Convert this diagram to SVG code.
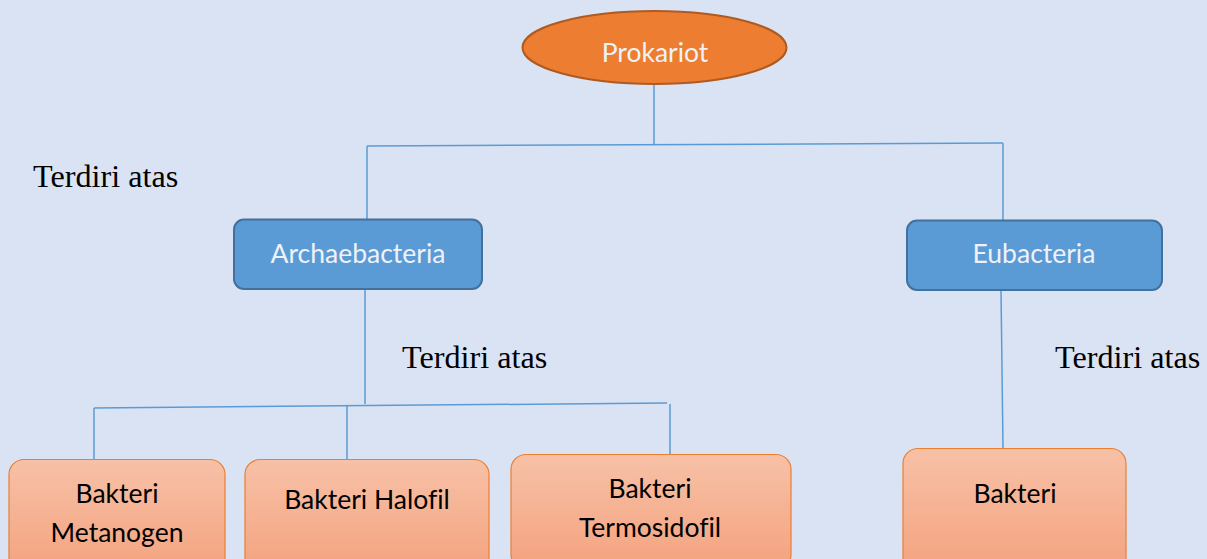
<svg xmlns="http://www.w3.org/2000/svg" width="1207" height="559" viewBox="0 0 1207 559">
<defs>
<linearGradient id="og" x1="0" y1="0" x2="0" y2="1">
<stop offset="0" stop-color="#f7c1a7"/>
<stop offset="1" stop-color="#f4a27e"/>
</linearGradient>
<style>
.conn{fill:none;stroke:#5b9bd5;stroke-width:1.5}
.blue{fill:#5b9bd5;stroke:#41719c;stroke-width:2}
.org{fill:url(#og);stroke:#ed7d31;stroke-width:1.2}
.wt{font-family:Lato,"Open Sans",sans-serif;font-size:26.5px;fill:#eef2f8;text-anchor:middle;font-variant-ligatures:none}
.bt{font-family:Lato,"Open Sans",sans-serif;font-size:26.5px;fill:#000;text-anchor:middle;font-variant-ligatures:none}
.lbl{font-family:"Liberation Serif",serif;font-size:32.2px;fill:#000}
</style>
</defs>
<rect width="1207" height="559" fill="#dae3f3"/>
<g id="connectors">
<path class="conn" d="M654 84 V145"/>
<path class="conn" d="M367 146 L1003 143"/>
<path class="conn" d="M367 146 V220"/>
<path class="conn" d="M1003 143 V220"/>
<path class="conn" d="M365 289 V404"/>
<path class="conn" d="M94 408 L667 403"/>
<path class="conn" d="M94 408 V459"/>
<path class="conn" d="M347 406 V459"/>
<path class="conn" d="M670 404 V455"/>
<path class="conn" d="M1001 290 L1003 448"/>
</g>
<g id="prokariot">
<ellipse cx="654.5" cy="47.5" rx="132" ry="36.5" fill="#ed7d31" stroke="#ae5a21" stroke-width="2"/>
<text class="wt" x="655" y="62">Prokariot</text>
</g>
<g id="archaebacteria">
<rect class="blue" x="234" y="219.5" width="248" height="69.5" rx="10"/>
<text class="wt" x="358" y="263">Archaebacteria</text>
</g>
<g id="eubacteria">
<rect class="blue" x="907" y="220.5" width="255" height="69.5" rx="10"/>
<text class="wt" x="1034" y="263">Eubacteria</text>
</g>
<g id="metanogen">
<rect class="org" x="9" y="459.5" width="216" height="115" rx="15"/>
<text class="bt" x="117" y="503">Bakteri</text>
<text class="bt" x="117" y="542">Metanogen</text>
</g>
<g id="halofil">
<rect class="org" x="245" y="459.5" width="244" height="115" rx="15"/>
<text class="bt" x="367" y="509">Bakteri Halofil</text>
</g>
<g id="termosidofil">
<rect class="org" x="511" y="454.5" width="280" height="115" rx="15"/>
<text class="bt" x="650" y="498">Bakteri</text>
<text class="bt" x="650" y="537">Termosidofil</text>
</g>
<g id="bakteri">
<rect class="org" x="903" y="448.5" width="223" height="125" rx="15"/>
<text class="bt" x="1015" y="503">Bakteri</text>
</g>
<g id="labels">
<text class="lbl" x="33" y="187">Terdiri atas</text>
<text class="lbl" x="402" y="368">Terdiri atas</text>
<text class="lbl" x="1055" y="368">Terdiri atas</text>
</g>
</svg>
